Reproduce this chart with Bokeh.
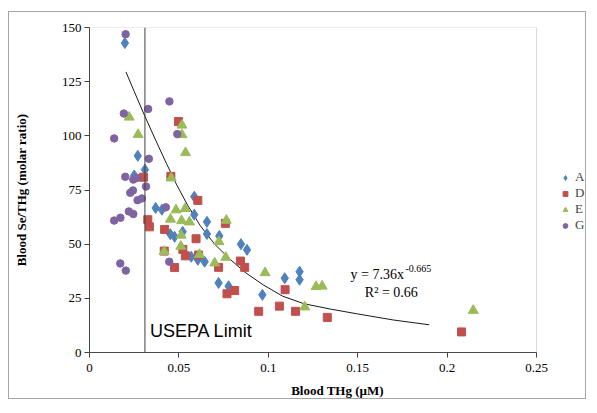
from bokeh.plotting import figure
from bokeh.models import Range1d, FixedTicker, Span, Label, Legend, LegendItem, BoxAnnotation
from bokeh.embed import file_html
from bokeh.resources import INLINE

# ---- data ----
A_x = [0.0198, 0.027, 0.031, 0.025, 0.0586, 0.037, 0.0405, 0.0586, 0.0657, 0.0452, 0.0476, 0.0521,
       0.0657, 0.0726, 0.0847, 0.0881, 0.0569, 0.0606, 0.0644, 0.1092, 0.1175, 0.1175, 0.0722, 0.0778, 0.0967]
A_y = [142.8, 90.8, 84.4, 81.7, 71.9, 66.7, 65.9, 63.6, 60.3, 54.6, 53.4, 55.7,
       54.7, 53.8, 50.0, 47.4, 44.2, 42.8, 41.9, 34.3, 37.3, 33.6, 32.1, 30.6, 26.6]

D_x = [0.0498, 0.0302, 0.0455, 0.0606, 0.0326, 0.0335, 0.042, 0.0596, 0.0418, 0.0522, 0.0536, 0.061,
       0.0476, 0.0722, 0.0844, 0.0868, 0.0812, 0.0769, 0.1094, 0.0946, 0.1062, 0.1152, 0.133, 0.2081, 0.076]
D_y = [106.6, 80.9, 81.3, 70.2, 61.3, 58.0, 56.8, 52.5, 46.8, 47.6, 44.6, 45.0,
       39.2, 39.3, 42.2, 39.3, 28.6, 27.1, 29.0, 19.0, 21.4, 19.0, 16.2, 9.5, 59.6]

E_x = [0.0222, 0.0517, 0.0517, 0.0272, 0.0537, 0.0457, 0.0484, 0.0535, 0.0453, 0.0515, 0.0559, 0.0765,
       0.0513, 0.0724, 0.0418, 0.0511, 0.0615, 0.070, 0.0762, 0.0982, 0.1267, 0.1301, 0.1204, 0.2146]
E_y = [108.6, 104.9, 100.5, 100.6, 92.2, 80.5, 65.8, 66.4, 61.5, 60.8, 60.2, 61.0,
       54.1, 51.1, 46.6, 49.0, 45.2, 41.3, 43.9, 36.8, 30.4, 30.6, 21.0, 19.4]

G_x = [0.0202, 0.0447, 0.0328, 0.0192, 0.0491, 0.0138, 0.0332, 0.020, 0.0245, 0.0265, 0.0316, 0.0243,
       0.0228, 0.0293, 0.0269, 0.0427, 0.022, 0.0245, 0.0173, 0.0138, 0.0446, 0.0172, 0.0203]
G_y = [146.9, 115.9, 112.4, 110.3, 100.8, 98.8, 89.4, 81.1, 79.8, 80.6, 76.6, 74.8,
       73.7, 71.1, 70.3, 67.0, 65.1, 63.9, 62.2, 60.9, 41.9, 41.1, 37.8]

# trend line as drawn in the reference
trend_x = [0.0204, 0.025, 0.031, 0.037, 0.043, 0.049, 0.055, 0.062, 0.070, 0.078, 0.087, 0.097,
           0.108, 0.120, 0.135, 0.150, 0.170, 0.190]
trend_y = [129.5, 120.5, 109.0, 98.0, 87.3, 77.0, 67.8, 58.5, 50.0, 43.5, 37.0, 31.3,
           26.0, 22.5, 20.0, 17.8, 15.0, 12.8]

usepa_limit = 0.031

x_ticks = [0, 0.05, 0.1, 0.15, 0.2, 0.25]
x_tick_labels = ["0", "0.05", "0.1", "0.15", "0.2", "0.25"]
y_ticks = [0, 25, 50, 75, 100, 125, 150]

series_names = ["A", "D", "E", "G"]
colors = ["#4F81BD", "#C0504D", "#9BBB59", "#8064A2"]

SERIF = "Liberation Serif"

X_MAX, Y_MAX = 0.25, 150
W, H = 578, 388
ML, MR, MT, MB = 80, 2, 15, 46
FRAME_W = W - ML - MR
PLOT_W = 447            # width of the plotted area (0 .. X_MAX)
x_end = X_MAX * FRAME_W / PLOT_W   # extra room on the right holds the legend

p = figure(width=W, height=H, output_backend="svg", toolbar_location=None,
           x_range=Range1d(0, x_end), y_range=Range1d(0, Y_MAX),
           min_border_left=ML, min_border_right=MR, min_border_top=MT, min_border_bottom=MB)
p.styles = {"border": "1px solid #a6a6a6", "margin-left": "8px", "margin-top": "11px"}
p.grid.visible = False
p.outline_line_color = None

# plot-area border (0..0.25 x 0..150)
p.add_layout(BoxAnnotation(left=0, right=X_MAX, bottom=0, top=Y_MAX, fill_alpha=0,
                           line_color="#808080", line_width=1))

for ax in (p.xaxis[0], p.yaxis[0]):
    ax.axis_line_color = "#404040"
    ax.major_tick_line_color = "#404040"
    ax.major_tick_in = 0
    ax.major_tick_out = 5
    ax.minor_tick_line_color = None
    ax.major_label_text_font = SERIF
    ax.major_label_text_font_size = "13px"
    ax.major_label_text_color = "#000000"
    ax.axis_label_text_font = SERIF
    ax.axis_label_text_font_size = "13px"
    ax.axis_label_text_font_style = "bold"
    ax.axis_label_text_color = "#000000"

p.xaxis.bounds = (0, X_MAX)
p.xaxis.ticker = FixedTicker(ticks=x_ticks)
p.xaxis.major_label_overrides = {t: l for t, l in zip(x_ticks, x_tick_labels)}
p.yaxis.ticker = FixedTicker(ticks=y_ticks)
p.xaxis.axis_label = "Blood THg (µM)"
p.yaxis.axis_label = "Blood Se/THg (molar ratio)"
p.xaxis.major_label_standoff = 6
p.xaxis.axis_label_standoff = 8
p.yaxis.major_label_standoff = 3
p.yaxis.axis_label_standoff = 30

# USEPA limit line
p.add_layout(Span(location=usepa_limit, dimension="height", line_color="#404040", line_width=1))

# trend line
p.line(trend_x, trend_y, line_color="#1a1a1a", line_width=1)

r_A = p.scatter(A_x, A_y, marker="diamond", size=11, fill_color=colors[0], line_color=colors[0])
r_D = p.scatter(D_x, D_y, marker="square", size=8, fill_color=colors[1], line_color=colors[1])
r_E = p.scatter(E_x, E_y, marker="triangle", size=10, fill_color=colors[2], line_color=colors[2])
r_G = p.scatter(G_x, G_y, marker="circle", size=7.5, fill_color=colors[3], line_color=colors[3])

legend = Legend(items=[LegendItem(label=n, renderers=[r]) for n, r in zip(series_names, [r_A, r_D, r_E, r_G])],
                location=(470, 119), orientation="vertical",
                label_text_font=SERIF, label_text_font_size="13px",
                glyph_width=12, glyph_height=15, label_height=15, label_standoff=4,
                spacing=0, padding=0, margin=0,
                border_line_color=None, background_fill_alpha=0)
p.add_layout(legend)

p.add_layout(Label(x=usepa_limit, y=0, x_offset=5, y_offset=21.5, text="USEPA Limit",
                   text_font="Liberation Sans", text_font_size="18px", text_color="#000000",
                   text_baseline="middle"))
p.add_layout(Label(x=0.146, y=36.2, text="y = 7.36x", text_font=SERIF, text_font_size="14px",
                   text_color="#000000", text_baseline="middle"))
p.add_layout(Label(x=0.1767, y=38.8, text="-0.665", text_font=SERIF, text_font_size="10px",
                   text_color="#000000", text_baseline="middle"))
p.add_layout(Label(x=0.154, y=27.5, text="R² = 0.66", text_font=SERIF, text_font_size="14px",
                   text_color="#000000", text_baseline="middle"))

open("out.html", "w").write(file_html(p, INLINE))
